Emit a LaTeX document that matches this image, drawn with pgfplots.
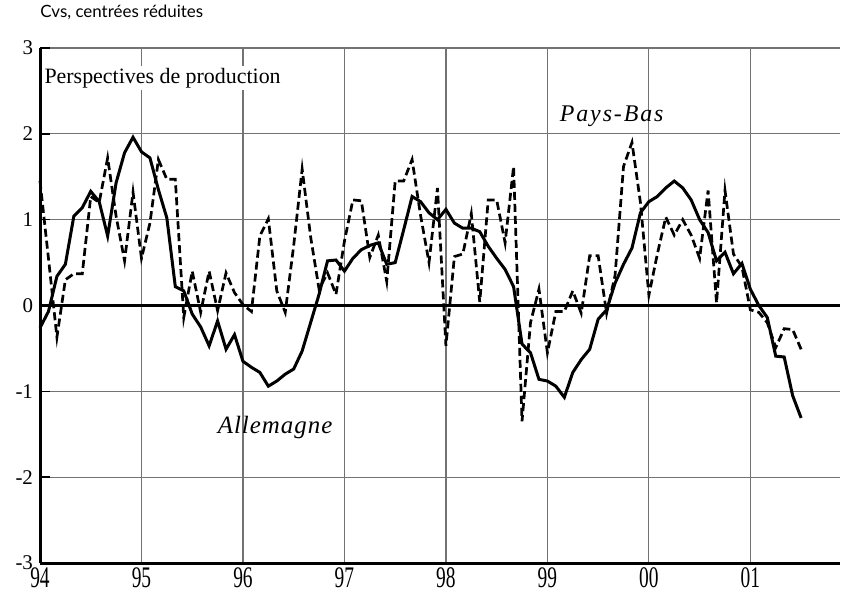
\documentclass[border=0pt]{standalone}
\usepackage{pgfplots}
\pgfplotsset{compat=1.18}
\usepackage{pgfplotstable}
\usepackage{graphicx}
\usepackage{fontspec}
\setmainfont{Liberation Serif}
\newfontfamily\gill{Lato}
\newcommand\xl[1]{\scalebox{0.65}[1]{#1}}

% months since Jan 94; de = Allemagne, nl = Pays-Bas
\pgfplotstableread{
m de nl
0 -0.26 1.45
1 -0.07 0.55
2 0.34 -0.37
3 0.48 0.30
4 1.04 0.37
5 1.14 0.37
6 1.33 1.27
7 1.21 1.20
8 0.81 1.72
9 1.43 1.04
10 1.78 0.52
11 1.96 1.32
12 1.79 0.55
13 1.72 0.96
14 1.35 1.70
15 1.02 1.47
16 0.22 1.47
17 0.17 -0.14
18 -0.10 0.40
19 -0.25 -0.08
20 -0.47 0.40
21 -0.18 -0.06
22 -0.51 0.38
23 -0.34 0.15
24 -0.65 0.01
25 -0.72 -0.07
26 -0.78 0.81
27 -0.94 1.01
28 -0.88 0.17
29 -0.80 -0.08
30 -0.74 0.70
31 -0.53 1.59
32 -0.20 0.80
33 0.13 0.19
34 0.52 0.38
35 0.53 0.13
36 0.40 0.75
37 0.55 1.23
38 0.65 1.22
39 0.70 0.56
40 0.73 0.82
41 0.48 0.28
42 0.50 1.45
43 0.88 1.45
44 1.27 1.70
45 1.21 1.05
46 1.08 0.50
47 1.00 1.37
48 1.12 -0.47
49 0.96 0.57
50 0.90 0.60
51 0.90 1.07
52 0.86 0.04
53 0.69 1.23
54 0.55 1.23
55 0.42 0.73
56 0.22 1.62
57 -0.45 -1.35
58 -0.55 -0.20
59 -0.86 0.19
60 -0.88 -0.55
61 -0.94 -0.07
62 -1.07 -0.07
63 -0.78 0.17
64 -0.63 -0.09
65 -0.51 0.58
66 -0.16 0.58
67 -0.05 -0.09
68 0.26 0.35
69 0.48 1.62
70 0.67 1.90
71 1.08 1.20
72 1.21 0.12
73 1.27 0.60
74 1.37 1.03
75 1.45 0.82
76 1.37 1.00
77 1.23 0.82
78 1.00 0.55
79 0.85 1.34
80 0.52 0.03
81 0.62 1.34
82 0.37 0.60
83 0.49 0.45
84 0.19 -0.05
85 0.00 -0.08
86 -0.14 -0.20
87 -0.59 -0.49
88 -0.60 -0.27
89 -1.05 -0.28
90 -1.31 -0.51
}\data

\begin{document}
\begin{tikzpicture}
\begin{axis}[
  scale only axis, width=400bp, height=257.5bp,
  xmin=0, xmax=94.6, ymin=-3, ymax=3,
  xtick={0,12,...,84},
  xticklabels={\xl{94},\xl{95},\xl{96},\xl{97},\xl{98},\xl{99},\xl{00},\xl{01}},
  ytick={-3,...,3},
  axis x line*=bottom, axis y line*=left,
  axis line style={-, line width=1.5bp, black},
  grid=major, grid style={black!55, line width=0.6bp},
  xtick style={draw=none},
  ytick style={black, line width=0.8bp},
  major tick length=5bp, tick align=inside,
  /pgf/number format/assume math mode=true,
  xticklabel style={font=\fontsize{15}{15}\selectfont, yshift=1bp},
  yticklabel style={font=\fontsize{10.5}{10.5}\selectfont},
  extra y ticks={0}, extra y tick labels={},
  extra y tick style={grid style={black, line width=1.3bp}, major tick length=0pt},
  clip=false,
]
\addplot[black, line width=1.35bp, dash pattern=on 4bp off 2bp] table[x=m, y=nl] {\data};
\addplot[black, line width=1.5bp] table[x=m, y=de] {\data};
\node[fill=white, inner sep=1bp, anchor=base west, font=\fontsize{11}{11}\selectfont]
  at (axis cs:0.25,2.59) {Perspectives de production};
\node[font=\fontsize{12}{12}\selectfont\itshape\addfontfeatures{LetterSpace=8}]
  at (axis cs:67.6,2.2) {Pays-Bas};
\node[font=\fontsize{12.5}{12.5}\selectfont\itshape\addfontfeatures{LetterSpace=4}]
  at (axis cs:27.8,-1.42) {Allemagne};
\node[anchor=base west, inner sep=0pt, font=\gill\fontsize{8.5}{8.5}\selectfont]
  at (axis cs:0,3.35) {Cvs, centrées réduites};
\end{axis}
\pgfresetboundingbox
\path[use as bounding box] ([shift={(-20bp,-16bp)}]current axis.south west)
  rectangle ([shift={(2bp,24bp)}]current axis.north east);
\end{tikzpicture}
\end{document}
